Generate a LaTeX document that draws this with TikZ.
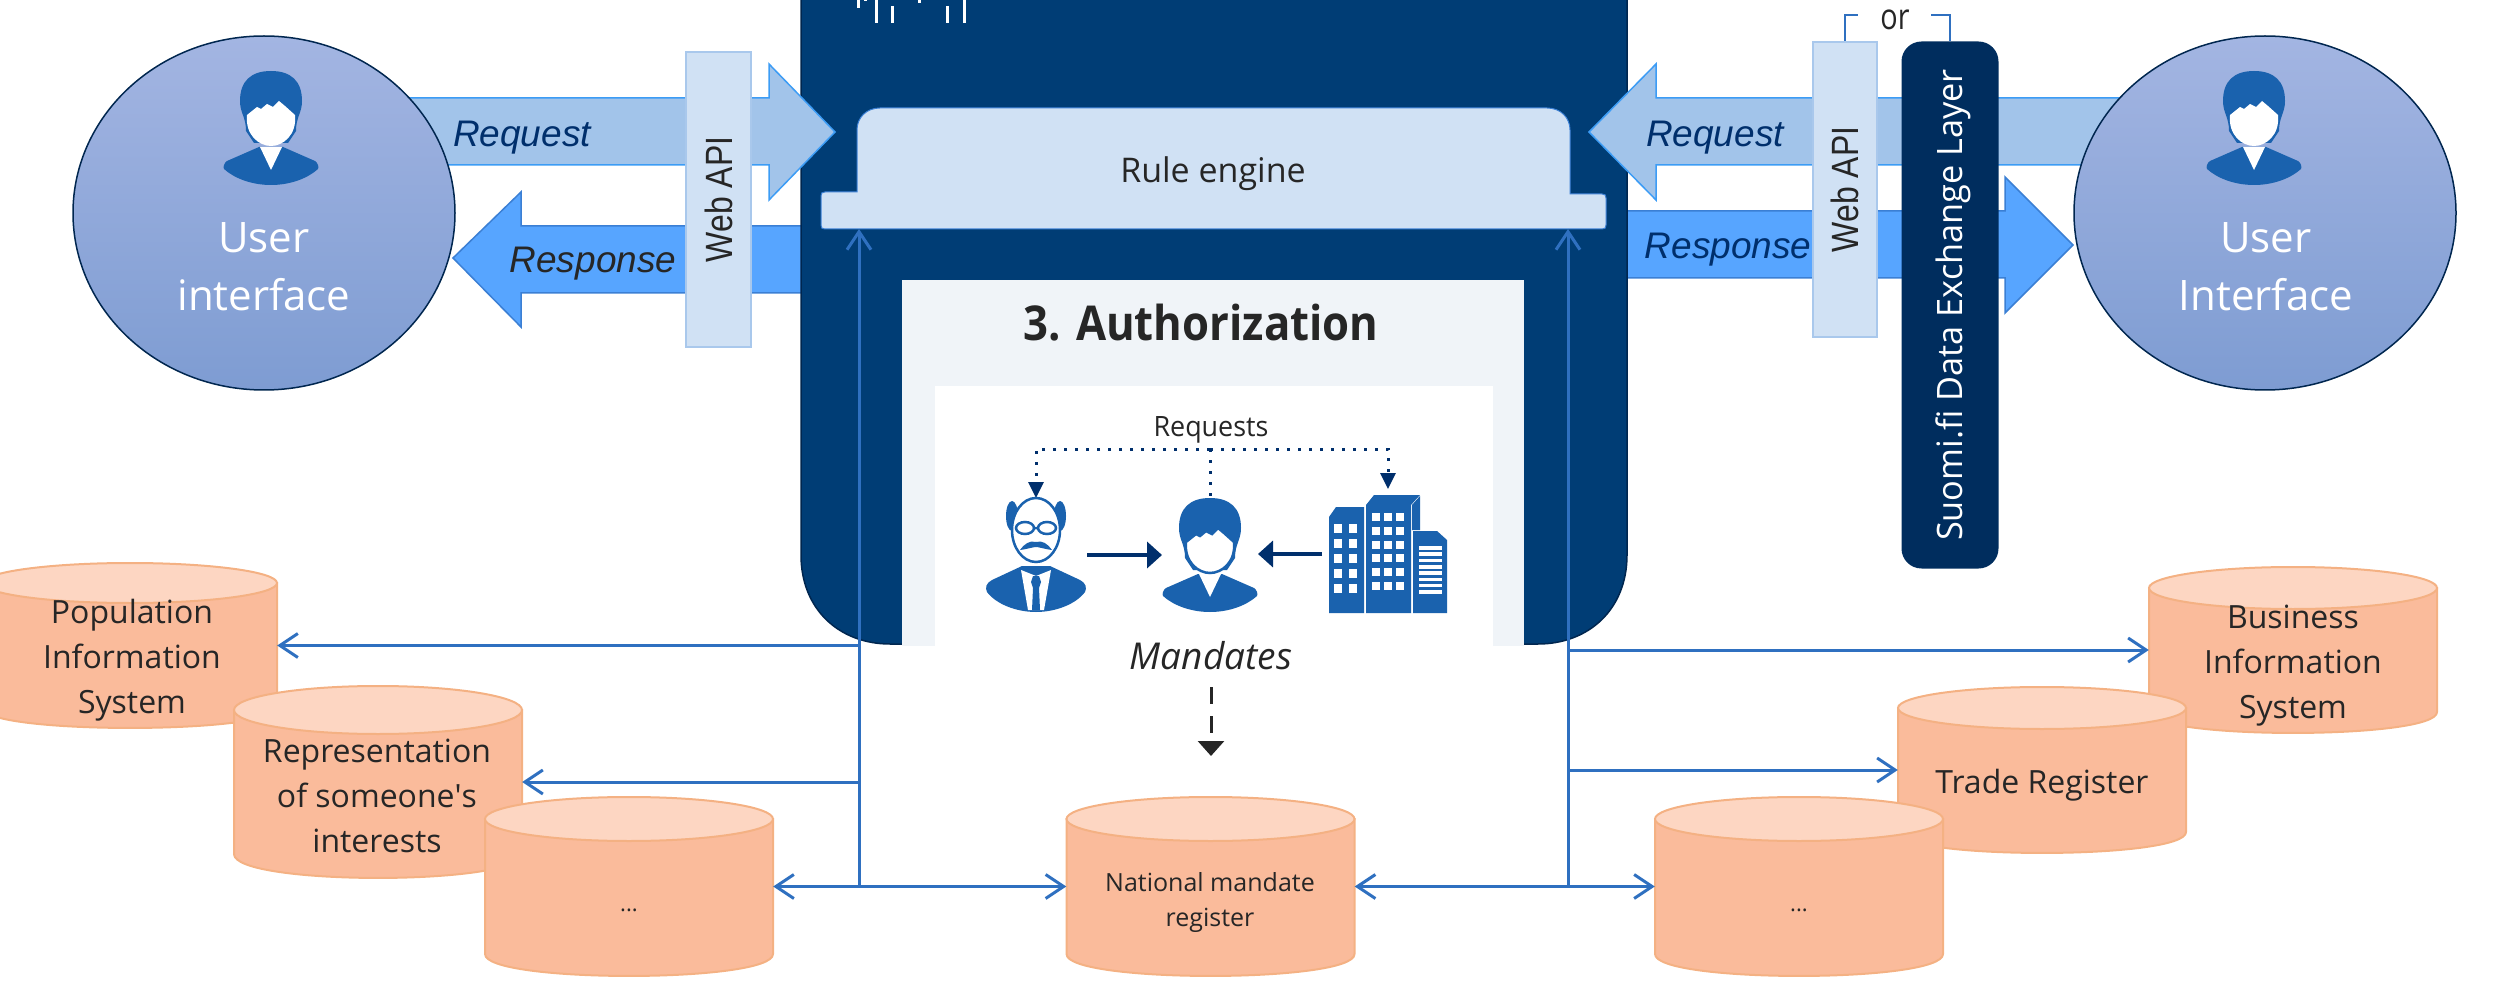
\documentclass[tikz,border=0pt]{standalone}
\usepackage{fontspec}
\setmainfont{Open Sans}
\newfontfamily\arialfont{Liberation Sans}
\usetikzlibrary{arrows.meta,shapes.geometric}
\definecolor{panelblue}{HTML}{003D75}
\definecolor{paneledge}{HTML}{00264F}
\definecolor{paleblue}{HTML}{D0E1F4}
\definecolor{paleedge}{HTML}{A9C8EC}
\definecolor{authpale}{HTML}{F0F4F8}
\definecolor{reqfill}{HTML}{A2C4EA}
\definecolor{reqedge}{HTML}{3C9CF5}
\definecolor{respfill}{HTML}{57A5FF}
\definecolor{respedge}{HTML}{3B7FD4}
\definecolor{navy}{HTML}{002F6C}
\definecolor{boxnavy}{HTML}{002D5E}
\definecolor{iconblue}{HTML}{1A62AE}
\definecolor{linkblue}{HTML}{2F70C0}
\definecolor{inktext}{HTML}{262626}
\definecolor{cylbody}{HTML}{FABB9B}
\definecolor{cyltop}{HTML}{FDD6C2}
\definecolor{cyledge}{HTML}{F4B183}
\definecolor{uitop}{HTML}{A3B5E2}
\definecolor{uibottom}{HTML}{7E9CD2}
\tikzset{
  bigarrow/.style={line width=1.5pt},
  apibox/.style={rectangle,draw=paleedge,line width=2pt,fill=paleblue,inner sep=0pt,
    font=\arialfont\fontsize{38}{38}\selectfont,text=inktext},
  uicircle/.style={ellipse,draw=paneledge,line width=1.5pt,top color=uitop,bottom color=uibottom,
    minimum width=382pt,minimum height=354pt,inner sep=0pt},
  uilabel/.style={text=white,align=center,font=\fontsize{42}{58}\selectfont,inner sep=0pt},
  arrowlabel/.style={font=\arialfont\itshape\fontsize{37}{37}\selectfont,inner sep=0pt},
  storeline/.style={draw=cyledge,line width=2pt},
  storetext/.style={text=inktext,align=center,font=\fontsize{32}{45}\selectfont,inner sep=0pt},
  link/.style={draw=linkblue,line width=3pt,-{Straight Barb[length=18pt,width=24pt,line width=3pt]}},
  linkboth/.style={link,{Straight Barb[length=18pt,width=24pt,line width=3pt]}-{Straight Barb[length=18pt,width=24pt,line width=3pt]}},
  dotlink/.style={draw=navy,line width=3pt,dash pattern=on 3pt off 8pt},
  navylink/.style={draw=navy,line width=4pt,-{Triangle[length=15pt,width=26pt]}}
}
% name, centre x, centre y, height, end radius, half width
\newcommand{\storedb}[6]{
  \pgfmathsetmacro\sidey{#4/2-#5}
  \pgfmathsetmacro\bulge{\sidey+1.33*#5}
  \pgfmathsetmacro\fullw{2*#6}
  \begin{scope}[shift={(#2,#3)}]
    \draw [storeline,fill=cylbody] (-#6,-\sidey) -- (-#6,\sidey) .. controls (-#6,\bulge) and (#6,\bulge) .. (#6,\sidey) -- (#6,-\sidey) -- cycle;
    \draw [storeline,fill=cyltop] (0,-\sidey) ellipse (#6 and #5);
  \end{scope}
  \node (#1) at (#2,#3) [rectangle,minimum width=\fullw pt,minimum height=#4 pt,inner sep=0pt] {};
}
\begin{document}
\begin{tikzpicture}[x=1pt,y=-1pt]
\clip (0,0) rectangle (2509,981);
% person icon, origin at top of the head
\def\hairpath{(0,0) .. controls (-20,0) and (-31,10) .. (-31,30) .. controls (-31,42) and (-25,46) .. (-25,60) -- (-17,72) -- (17,72) -- (25,60) .. controls (25,46) and (31,42) .. (31,30) .. controls (31,10) and (20,0) .. (0,0) -- cycle}
\def\facepath{(-24,44) -- (-14,36) -- (-10,38) -- (-4,33) -- (2,36) -- (8,30) -- (14,35) -- (24,44) .. controls (26,64) and (12,75) .. (0,75) .. controls (-12,75) and (-26,64) .. (-24,44) -- cycle}
\def\bodypath{(-12,76) -- (-44,90) .. controls (-47,92) and (-48,96) .. (-47,98) .. controls (-37,107) and (-20,114) .. (0,114) .. controls (20,114) and (37,107) .. (47,98) .. controls (48,96) and (47,92) .. (44,90) -- (12,76) -- cycle}
\def\collarpath{(-11,76) -- (0,99) -- (11,76) -- cycle}
% big arrows
\def\requestleft{(400,98) -- (769,98) -- (769,64) -- (835,132) -- (769,200) -- (769,165) -- (400,165) -- cycle}
\def\responseleft{(810,226) -- (521,226) -- (521,192) -- (453,258) -- (521,327) -- (521,293) -- (810,293) -- cycle}
\def\requestright{(2150,98) -- (1656,98) -- (1656,64) -- (1589,132) -- (1656,200) -- (1656,165) -- (2150,165) -- cycle}
\def\responseright{(1620,211) -- (2005,211) -- (2005,177) -- (2073,245) -- (2005,313) -- (2005,278) -- (1620,278) -- cycle}

\draw [bigarrow,draw=respedge,fill=respfill] \responseleft;
\draw [bigarrow,draw=respedge,fill=respfill] \responseright;
% main panel
\draw [line width=1.5pt,draw=paneledge,fill=panelblue] (801,-20) -- (801,555) .. controls (801,610) and (840,644) .. (890,644) -- (1538,644) .. controls (1588,644) and (1627,610) .. (1627,555) -- (1627,-20) -- cycle;
\foreach \tx/\ty/\tz in {858/0/8,865/0/1,876/0/23,892/6/23,919/0/3,947/6/23,964/0/23}
  \draw [white,line width=3pt] (\tx,\ty) -- (\tx,\tz);
\draw [bigarrow,draw=reqedge,fill=reqfill] \requestleft;
\draw [bigarrow,draw=reqedge,fill=reqfill] \requestright;
% rule engine
\draw [draw=respedge,line width=1pt,fill=paleblue] (821,196) .. controls (821,193) and (822,192) .. (825,192) -- (857,192) -- (857,130) .. controls (857,118) and (866,108) .. (880,108) -- (1547,108) .. controls (1561,108) and (1570,118) .. (1570,130) -- (1570,194) -- (1602,194) .. controls (1605,194) and (1606,195) .. (1606,198) -- (1606,225) .. controls (1606,228) and (1605,229) .. (1602,229) -- (825,229) .. controls (822,229) and (821,228) .. (821,225) -- cycle;
\node (rule) at (1213,174) [text=inktext,font=\fontsize{34}{34}\selectfont,inner sep=0pt] {Rule engine};
% authorization
\fill [authpale] (902,280) rectangle (1524,645.5);
\fill [white] (935,386) rectangle (1493,645.5);
\node (authtitle) at (1201,323) [xscale=.91,text=inktext,font=\bfseries\fontsize{48}{48}\selectfont,inner sep=0pt] {3. Authorization};
\node (requests) at (1211,430) [xscale=.96,text=inktext,font=\fontsize{28}{28}\selectfont,inner sep=0pt] {Requests};
\node (mandates) at (1211,656) [text=inktext,font=\itshape\fontsize{37}{37}\selectfont,inner sep=0pt] {Mandates};
% request lines
\coordinate (bus) at (1210,449);
\coordinate (mantop) at (1036,498);
\coordinate (persontop) at (1210,498);
\coordinate (towertop) at (1388,489);
\draw [dotlink,-{Triangle[length=16pt,width=15pt]}] (bus) -| (mantop);
\draw [dotlink,-{Triangle[length=16pt,width=15pt]}] (bus) -| (towertop);
\draw [dotlink] (bus) -- (persontop);
% man
\begin{scope}[shift={(1036,498)}]
\fill [iconblue] (-24,18) ellipse (6 and 15) (24,18) ellipse (6 and 15);
\fill [iconblue] (-14,68) -- (-44,82) .. controls (-50,85) and (-51,90) .. (-49,94) .. controls (-40,106) and (-20,114) .. (0,114) .. controls (20,114) and (40,106) .. (49,94) .. controls (51,90) and (50,85) .. (44,82) -- (14,68) -- cycle;
\fill [white] (-15,72) -- (0,78) -- (15,72) -- (8,112) -- (-8,112) -- cycle;
\fill [iconblue] (-3,78) -- (3,78) -- (5,84) -- (3,90) -- (4,112) -- (-4,112) -- (-3,90) -- (-5,84) -- cycle;
\draw [iconblue,line width=2.5pt,fill=white] (0,32) ellipse (24 and 32);
\draw [iconblue,line width=2.5pt] (-11,30) ellipse (9 and 6) (11,30) ellipse (9 and 6) (-2,30) -- (2,30);
\fill [iconblue] (0,44) .. controls (-6,42) and (-12,46) .. (-16,52) .. controls (-8,51) and (-3,49) .. (0,49) .. controls (3,49) and (8,51) .. (16,52) .. controls (12,46) and (6,42) .. (0,44) -- cycle;
\end{scope}
% person in the middle
\begin{scope}[shift={(1210,498)}]
\fill [iconblue] \hairpath;
\fill [iconblue] \bodypath;
\fill [white] \collarpath;
\draw [iconblue,line width=2.5pt,fill=white] \facepath;
\end{scope}
% building
\begin{scope}[shift={(1329,495)}]
\fill [iconblue] (0,22) -- (7,12) -- (35,12) -- (35,118) -- (0,118) -- cycle;
\fill [iconblue] (37,118) -- (37,10) -- (45,0) -- (91,0) -- (82,10) -- (82,118) -- cycle;
\fill [iconblue] (83,35) -- (83,10) -- (91,1) -- (91,35) -- cycle;
\fill [iconblue] (84,118) -- (84,36) -- (108,36) -- (118,45) -- (118,118) -- cycle;
\foreach \wy in {29,44,59,74,89}
  \foreach \wx in {5,20}
    \fill [white] (\wx,\wy) rectangle +(8,9);
\foreach \wy in {18,32,46,59,73,87}
  \foreach \wx in {43,55,67}
    \fill [white] (\wx,\wy) rectangle +(7.5,7.5);
\foreach \wy in {51,57.3,63.6,69.9,76.2,82.5,88.8,95.1}
  \fill [white] (90,\wy) rectangle +(23,3.6);
\end{scope}
\coordinate (manright) at (1087,555);
\coordinate (personleft) at (1162,555);
\coordinate (personright) at (1258,554);
\coordinate (towerleft) at (1322,554);
\draw [navylink] (manright) -- (personleft);
\draw [navylink] (towerleft) -- (personright);
% mandates down
\coordinate (downtop) at (1211,687);
\coordinate (downtip) at (1211,756);
\draw [draw=inktext,line width=3pt,dash pattern=on 17pt off 12pt,-{Triangle[length=15pt,width=26pt]}] (downtop) -- (downtip);
% web api and data exchange boxes
\node (webapil) at (718.5,199.5) [apibox,minimum width=65pt,minimum height=295pt] {\rotatebox{90}{\scalebox{.84}[1]{Web API}}};
\node (webapir) at (1845,189.5) [apibox,minimum width=64pt,minimum height=295pt] {\rotatebox{90}{\scalebox{.84}[1]{Web API}}};
\node (suomi) at (1950,305) [rectangle,rounded corners=20pt,fill=boxnavy,text=white,minimum width=97pt,minimum height=527pt,inner sep=0pt,font=\fontsize{35}{35}\selectfont] {\hspace*{6pt}\rotatebox{90}{\scalebox{.98}[1]{Suomi.fi Data Exchange Layer}}};
\coordinate (orleft) at (1858,15);
\coordinate (orright) at (1931,15);
\node (orlabel) at (1895,20) [xscale=.8,text=inktext,font=\fontsize{36}{36}\selectfont,inner sep=0pt] {or};
\draw [draw=linkblue,line width=2.5pt] (webapir.north) |- (orleft);
\draw [draw=linkblue,line width=2.5pt] (suomi.north) |- (orright);
% user interfaces
\node (uileft) at (264,213) [uicircle] {};
\node (uiright) at (2265,213) [uicircle] {};
\fill [iconblue,shift={(271,71)}] \hairpath;
\fill [iconblue,shift={(271,71)}] \bodypath;
\fill [white,shift={(271,71)}] \collarpath;
\fill [white,shift={(271,71)}] \facepath;
\fill [iconblue,shift={(2254,71)}] \hairpath;
\fill [iconblue,shift={(2254,71)}] \bodypath;
\fill [white,shift={(2254,71)}] \collarpath;
\fill [white,shift={(2254,71)}] \facepath;
\node (uileftlabel) at (264,267) [uilabel] {User\\interface};
\node (uirightlabel) at (2266,267) [uilabel] {User\\Interface};
\node (reqleft) at (522,138) [arrowlabel,text=navy] {Request};
\node (respleft) at (593,264) [arrowlabel,text=inktext] {Response};
\node (reqright) at (1715,138) [arrowlabel,text=navy] {Request};
\node (respright) at (1728,250) [arrowlabel,text=navy] {Response};
% registers
\storedb{population}{130}{645.5}{165}{20}{147}
\storedb{representation}{378}{782}{192}{24}{144}
\storedb{moreleft}{629}{886.5}{179}{22}{144}
\storedb{national}{1210.5}{886.5}{179}{22}{144}
\storedb{business}{2293}{650}{166}{21}{144}
\storedb{trade}{2042}{770}{166}{21}{144}
\storedb{moreright}{1799}{886.5}{179}{22}{144}
\node (populationtext) at (132,660) [storetext] {Population\\Information\\System};
\node (representationtext) at (377,796) [storetext] {Representation\\of someone\textquotesingle s\\interests};
\node (morelefttext) at (629,910) [storetext,font=\fontsize{22}{22}\selectfont] {...};
\node (nationaltext) at (1210,902) [storetext,font=\fontsize{25}{35}\selectfont] {National mandate\\register};
\node (morerighttext) at (1799,910) [storetext,font=\fontsize{22}{22}\selectfont] {...};
\node (businesstext) at (2293,666) [storetext] {Business\\Information\\System};
\node (tradetext) at (2042,785) [storetext] {Trade Register};
% links to the registers
\coordinate (hubleft) at (859,887);
\coordinate (hubright) at (1568,887);
\coordinate (ruleleft) at (859,229);
\coordinate (ruleright) at (1568,229);
\draw [link] (hubleft) -- (ruleleft);
\draw [link] (hubright) -- (ruleright);
\draw [link] (population.east -| hubleft) -- (population.east);
\draw [link] (representation.east -| hubleft) -- (representation.east);
\draw [linkboth] (moreleft.east) -- (national.west);
\draw [linkboth] (national.east) -- (moreright.west);
\draw [link] (business.west -| hubright) -- (business.west);
\draw [link] (trade.west -| hubright) -- (trade.west);
\end{tikzpicture}
\end{document}
